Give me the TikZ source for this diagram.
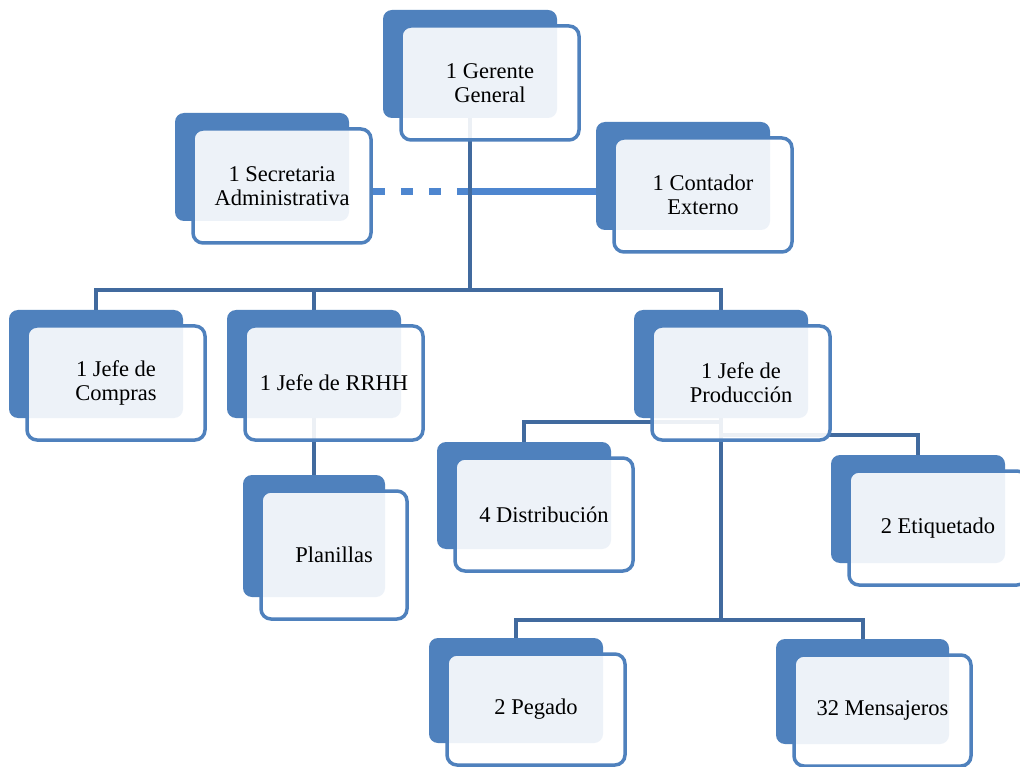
\documentclass[tikz,border=0pt]{standalone}
\usepackage{fontspec}
\setmainfont{Liberation Serif}
\definecolor{backblue}{RGB}{79,129,189}
\definecolor{treeblue}{RGB}{65,106,158}
\definecolor{linkblue}{RGB}{78,134,207}
\pgfdeclarelayer{bg}
\pgfsetlayers{bg,main}
\tikzset{
  backbox/.style={fill=backblue, rounded corners=9pt, inner sep=0pt, outer sep=0pt},
  frontbox/.style={draw=backblue, line width=3.5pt, fill=white, fill opacity=0.9, text opacity=1,
    rounded corners=10pt, inner sep=0pt, align=center, font=\fontsize{22.5}{24}\selectfont},
  tree/.style={draw=treeblue, line width=4pt},
  link/.style={draw=linkblue, line width=7pt},
  dashlink/.style={link, dash pattern=on 12pt off 16pt},
}
% name, x0, y0, w, h, text
\newcommand\orgbox[6]{%
  \node[backbox, minimum width=#4pt, minimum height=#5pt] (#1-b) at ({#2+#4/2},{#3+#5/2}) {};
  \node[frontbox, minimum width=#4pt+4pt, minimum height=#5pt+6pt] (#1) at ({#2+18+(#4+4)/2},{#3+16+(#5+6)/2}) {#6};
}
\begin{document}
\begin{tikzpicture}[x=1pt, y=-1pt]
\useasboundingbox (0,0) rectangle (1020,767);
\clip (0,0) rectangle (1020,767);

\path
  (470,290) coordinate (bus1)
  (462,192) coordinate (asst)
  (721,620) coordinate (bus2);

\orgbox{ger}{383}{10}{174}{108}{1 Gerente\\General}
\orgbox{sec}{175}{113}{174}{108}{1 Secretaria\\Administrativa}
\orgbox{con}{596}{122}{174}{108}{1 Contador\\Externo}
\orgbox{comp}{9}{310}{174}{108}{1 Jefe de\\Compras}
\orgbox{rrhh}{227}{310}{174}{108}{1 Jefe de RRHH}
\orgbox{prod}{634}{310}{174}{108}{1 Jefe de\\Producción}
\orgbox{dist}{437}{442}{174}{107}{4 Distribución}
\orgbox{etiq}{831}{455}{174}{108}{2 Etiquetado}
\orgbox{plan}{243}{475}{142}{122}{Planillas}
\orgbox{peg}{429}{638}{174}{105}{2 Pegado}
\orgbox{men}{776}{639}{173}{105}{32 Mensajeros}

\begin{pgfonlayer}{bg}
  \fill[white] (0,0) rectangle (1020,767);
  % assistant (dashed) and staff (solid) links
  \draw[dashlink] (sec.east |- asst) -- (asst);
  \draw[link] (asst) -- (con-b.west |- asst);
  % main tree
  \draw[tree] (ger-b.south) -- (ger-b.south |- bus1);
  \draw[tree] (ger-b.south |- bus1) -| (comp-b.north);
  \draw[tree] (ger-b.south |- bus1) -| (rrhh-b.north);
  \draw[tree] (ger-b.south |- bus1) -| (prod-b.north);
  % RRHH -> Planillas
  \draw[tree] (rrhh-b.south) -- (plan-b.north);
  % Produccion -> children
  \draw[tree] ([yshift=-4pt]prod-b.south) -| (dist-b.north);
  \draw[tree] ([yshift=-17pt]prod-b.south) -| (etiq-b.north);
  \draw[tree] (prod-b.south) -- (prod-b.south |- bus2);
  \draw[tree] (prod-b.south |- bus2) -| (peg-b.north);
  \draw[tree] (prod-b.south |- bus2) -| (men-b.north);
\end{pgfonlayer}
\end{tikzpicture}
\end{document}
